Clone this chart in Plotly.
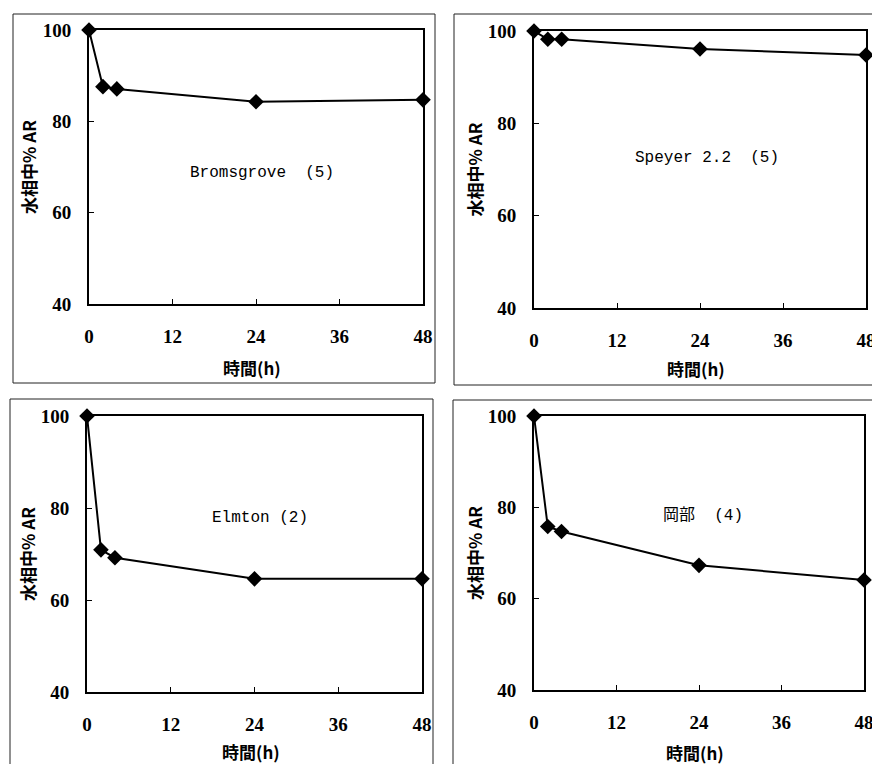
import plotly.graph_objects as go

W, H = 872, 764

hours = [0, 2, 4, 24, 48]
bromsgrove = [100, 87.6, 87.1, 84.3, 84.7]
speyer = [100, 98.2, 98.2, 96.1, 94.8]
elmton = [100, 70.9, 69.2, 64.6, 64.6]
okabe = [100, 75.8, 74.7, 67.3, 64.1]

panel_labels = ["Bromsgrove  (5)", "Speyer 2.2  (5)", "Elmton (2)", "岡部  (4)"]
series = [bromsgrove, speyer, elmton, okabe]
x_ticks = [0, 12, 24, 36, 48]
y_ticks = [40, 60, 80, 100]
x_title = "時間(h)"
y_title = "水相中% AR"

# plot-area pixel boxes (left, top, right, bottom)
boxes = [(89, 30, 423, 304), (534, 31, 866, 308), (87, 416, 422, 692), (534, 416, 864, 690)]
# label positions in data units
label_pos = [(24.9, 68.7), (25.0, 72.5), (24.8, 77.8), (24.6, 78.3)]
# x-title offsets below plot area (pixels)
xt_off = [63, 60, 59, 62]
# outer panel frames (pixels)
frames = [(13, 14, 435, 383), (454, 14, 890, 385), (10, 399, 433, 790), (453, 400, 890, 790)]

def px(x):
    return x / W

def py(y):
    return 1 - y / H

tick_font = dict(family="Liberation Serif", size=19, color="black", weight="bold")
cjk = "Noto Sans CJK JP"

fig = go.Figure()
layout = dict(
    template="none",
    width=W, height=H, margin=dict(l=0, r=0, t=0, b=0, pad=0, autoexpand=False),
    paper_bgcolor="white", plot_bgcolor="white", showlegend=False,
    annotations=[], shapes=[],
)

for i, (ys, box, lab, lp, fr, xo) in enumerate(zip(series, boxes, panel_labels, label_pos, frames, xt_off)):
    n = "" if i == 0 else str(i + 1)
    l, t, r, b = box
    fig.add_trace(go.Scatter(
        x=hours, y=ys, mode="lines+markers",
        line=dict(color="black", width=2),
        marker=dict(symbol="diamond", size=12, color="black", line=dict(width=0)),
        cliponaxis=False, xaxis="x" + n, yaxis="y" + n,
    ))
    layout["xaxis" + n] = dict(
        domain=[px(l), px(r)], anchor="y" + n, range=[0, 48], automargin=False,
        tickvals=x_ticks, ticks="inside", ticklen=5, tickwidth=1, tickcolor="black",
        showline=True, linewidth=2, linecolor="black", mirror=True,
        showgrid=False, zeroline=False, tickfont=tick_font, ticklabelstandoff=14,
        ticklabeloverflow="allow",
    )
    layout["yaxis" + n] = dict(
        domain=[py(b), py(t)], anchor="x" + n, range=[40, 100], automargin=False,
        tickvals=y_ticks, ticks="inside", ticklen=5, tickwidth=1, tickcolor="black",
        showline=True, linewidth=2, linecolor="black", mirror=True,
        showgrid=False, zeroline=False, tickfont=tick_font, ticklabelstandoff=12,
        ticklabeloverflow="allow",
    )
    layout["annotations"].append(dict(
        x=lp[0], y=lp[1], xref="x" + n, yref="y" + n, text=lab, showarrow=False,
        xanchor="center", yanchor="middle",
        font=dict(family="Liberation Mono, " + cjk, size=16, color="black"),
    ))
    cx = (l + r) / 2 - 4
    layout["annotations"].append(dict(
        x=px(cx), y=py(b + xo), xref="paper", yref="paper", text=x_title, showarrow=False,
        xanchor="center", yanchor="middle",
        font=dict(family=cjk, size=17, color="black", weight="bold"),
    ))
    layout["annotations"].append(dict(
        x=px(l - 60), y=py((t + b) / 2), xref="paper", yref="paper", text=y_title,
        showarrow=False, textangle=-90, xanchor="center", yanchor="middle",
        font=dict(family=cjk, size=17, color="black", weight="bold"),
    ))
    layout["shapes"].append(dict(
        type="rect", xref="paper", yref="paper",
        x0=px(fr[0]), x1=px(fr[2]), y0=py(fr[3]), y1=py(fr[1]),
        line=dict(color="#222", width=1),
    ))

fig.update_layout(**layout)
fig.write_html("out.html")
